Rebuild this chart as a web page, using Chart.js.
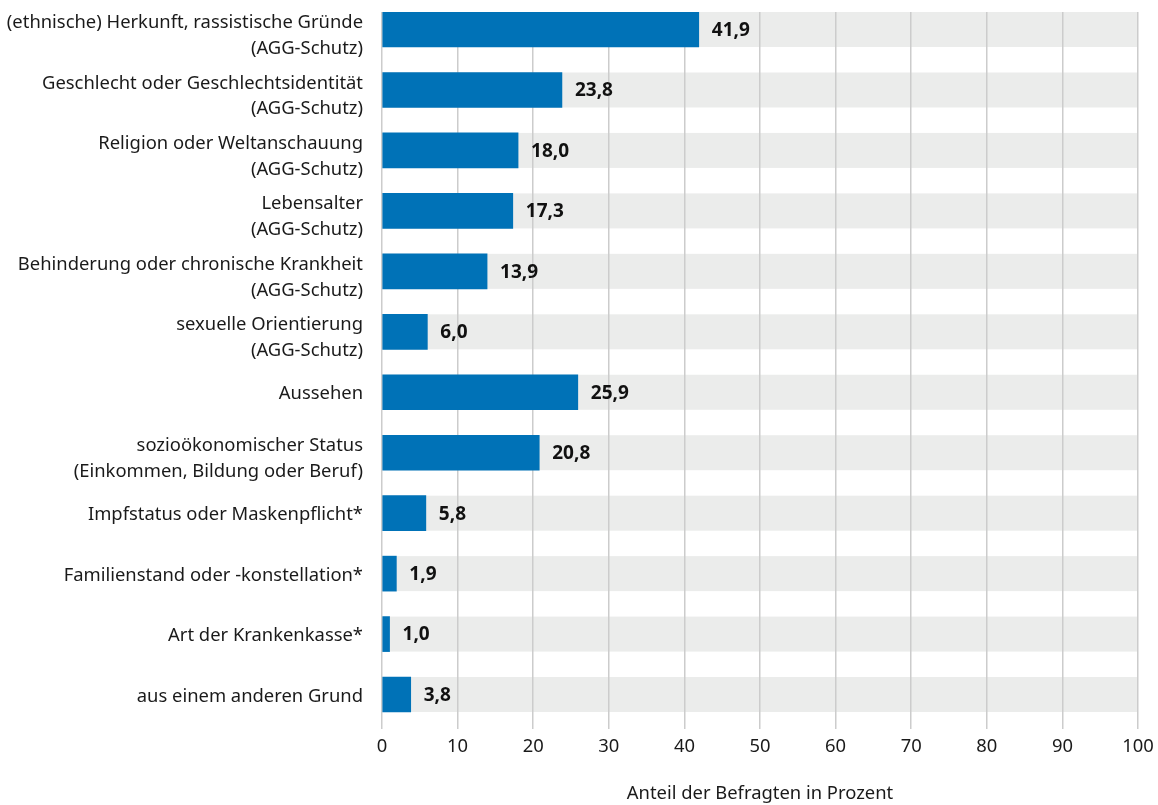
<!DOCTYPE html>
<html>
<head>
<meta charset="utf-8">
<script src="https://cdn.jsdelivr.net/npm/chart.js@4"></script>
<style>
  html, body { margin: 0; padding: 0; background: #fff; }
  #wrap { width: 1158px; height: 805px; }
</style>
</head>
<body>
<div id="wrap"><canvas id="chart"></canvas></div>
<script>
// Data
const categories = [
  ['(ethnische) Herkunft, rassistische Gründe', '(AGG-Schutz)'],
  ['Geschlecht oder Geschlechtsidentität', '(AGG-Schutz)'],
  ['Religion oder Weltanschauung', '(AGG-Schutz)'],
  ['Lebensalter', '(AGG-Schutz)'],
  ['Behinderung oder chronische Krankheit', '(AGG-Schutz)'],
  ['sexuelle Orientierung', '(AGG-Schutz)'],
  ['Aussehen'],
  ['sozioökonomischer Status', '(Einkommen, Bildung oder Beruf)'],
  ['Impfstatus oder Maskenpflicht*'],
  ['Familienstand oder -konstellation*'],
  ['Art der Krankenkasse*'],
  ['aus einem anderen Grund']
];
const values = [41.9, 23.8, 18.0, 17.3, 13.9, 6.0, 25.9, 20.8, 5.8, 1.9, 1.0, 3.8];
const xTicks = [0, 10, 20, 30, 40, 50, 60, 70, 80, 90, 100];
const xTitle = 'Anteil der Befragten in Prozent';

const FONT = '"Noto Sans", "Open Sans", sans-serif';
const BAR = 35;

// grey row bands behind the grid
const bandPlugin = {
  id: 'bands',
  beforeDraw(chart) {
    const { ctx, scales: { x, y } } = chart;
    ctx.save();
    ctx.fillStyle = '#ebeceb';
    categories.forEach((c, i) => {
      const cy = y.getPixelForValue(i);
      const x0 = x.getPixelForValue(0);
      ctx.fillRect(x0, cy - BAR / 2, x.getPixelForValue(100) - x0, BAR);
    });
    ctx.restore();
  }
};

// value labels right of the bars
const valuePlugin = {
  id: 'values',
  afterDatasetsDraw(chart) {
    const { ctx } = chart;
    const meta = chart.getDatasetMeta(0);
    ctx.save();
    ctx.font = 'bold 19px ' + FONT;
    ctx.fillStyle = '#111';
    ctx.textBaseline = 'middle';
    meta.data.forEach((bar, i) => {
      ctx.fillText(values[i].toFixed(1).replace('.', ','), bar.x + 13, bar.y + 1);
    });
    ctx.restore();
  }
};

new Chart(document.getElementById('chart'), {
  type: 'bar',
  data: {
    datasets: [{
      data: values.map((v, i) => ({ x: v, y: i })),
      backgroundColor: '#0072b7',
      barThickness: BAR,
      borderWidth: 0
    }]
  },
  options: {
    indexAxis: 'y',
    responsive: true,
    maintainAspectRatio: false,
    animation: false,
    layout: { padding: { top: 12, right: 20, bottom: 0, left: 0 } },
    plugins: { legend: { display: false }, tooltip: { enabled: false } },
    scales: {
      x: {
        type: 'linear',
        min: 0,
        max: 100,
        afterBuildTicks: (s) => { s.ticks = xTicks.map(v => ({ value: v })); },
        afterFit: (s) => { s.paddingLeft = 0; s.paddingRight = 0; s.height = 76; },
        grid: { color: '#cccccc', lineWidth: 1.5, drawTicks: false },
        border: { display: false },
        ticks: { color: '#1a1a1a', font: { family: FONT, size: 18.4 }, padding: 7 },
        title: { display: true, text: xTitle, color: '#1a1a1a', font: { family: FONT, size: 18.4 }, padding: { top: 18, bottom: 0 } }
      },
      y: {
        type: 'linear',
        reverse: true,
        offset: false,
        min: -0.29,
        max: 11.57,
        // two-line labels sit a little lower than the bar centre
        afterBuildTicks: (s) => { s.ticks = categories.map((c, i) => ({ value: i + (c.length - 1) * 0.07 })); },
        afterFit: (s) => { s.width = 382; s.paddingTop = 0; s.paddingBottom = 0; },
        grid: { display: false, drawTicks: false, offset: false },
        border: { display: false },
        ticks: {
          color: '#1a1a1a',
          font: { family: FONT, size: 18.4, lineHeight: 1.4 },
          padding: 19,
          labelOffset: 2,
          autoSkip: false,
          callback: (v) => categories[Math.round(v)]
        }
      }
    }
  },
  plugins: [bandPlugin, valuePlugin]
});
</script>
</body>
</html>
